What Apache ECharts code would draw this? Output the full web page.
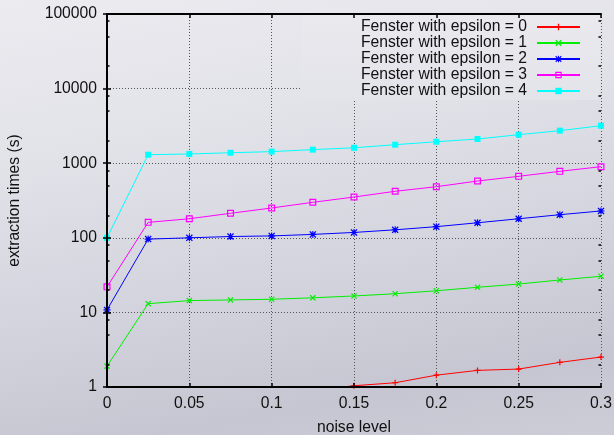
<!DOCTYPE html>
<html>
<head>
<meta charset="utf-8">
<script src="https://cdn.jsdelivr.net/npm/echarts@6/dist/echarts.min.js"></script>
<style>
html,body{margin:0;padding:0;}
#chart{width:614px;height:435px;background:linear-gradient(170deg,#ebebf0 0%,#e2e2e9 30%,#d4d4de 60%,#c6c6d2 85%,#cdcdd8 100%);}
</style>
</head>
<body>
<div id="chart"></div>
<script>
// ---- data ----
const noiseLevels = [0, 0.025, 0.05, 0.075, 0.1, 0.125, 0.15, 0.175, 0.2, 0.225, 0.25, 0.275, 0.3];
const eps0 = [null, null, null, null, null, 0.9, 1.04, 1.14, 1.44, 1.67, 1.74, 2.14, 2.52];
const eps1 = [1.9, 13.1, 14.4, 14.7, 15.0, 15.7, 16.6, 17.8, 19.5, 21.7, 24.0, 27.2, 30.5];
const eps2 = [10.8, 96, 100, 104, 106, 111, 118, 128, 141, 159, 180, 204, 229];
const eps3 = [22, 161, 180, 213, 251, 299, 352, 420, 484, 577, 667, 778, 898];
const eps4 = [100, 1300, 1330, 1380, 1430, 1520, 1610, 1770, 1940, 2110, 2410, 2730, 3180];
const seriesNames = ['Fenster with epsilon = 0','Fenster with epsilon = 1','Fenster with epsilon = 2','Fenster with epsilon = 3','Fenster with epsilon = 4'];
const xTicks = [0, 0.05, 0.1, 0.15, 0.2, 0.25, 0.3];
const xTickLabels = ['0', '0.05', '0.1', '0.15', '0.2', '0.25', '0.3'];
const yTicks = [1, 10, 100, 1000, 10000, 100000];
const yTickLabels = ['1', '10', '100', '1000', '10000', '100000'];
const yMinorTicks = [2, 5, 8, 20, 50, 80, 200, 500, 800, 2000, 5000, 8000, 20000, 50000, 80000];

// ---- styling ----
const FONT = 'Liberation Sans';
const FS = 15.7;
const colors = ['#ff0000', '#00ee00', '#0000ff', '#ff00ff', '#00ffff'];
const PLUS = 'path://M4,0H6V4H10V6H6V10H4V6H0V4H4Z';
const CROSS = 'path://M0,1.4L1.4,0L5,3.6L8.6,0L10,1.4L6.4,5L10,8.6L8.6,10L5,6.4L1.4,10L0,8.6L3.6,5Z';
const STAR = 'path://M4.2,0H5.8V4.2H10V5.8H5.8V10H4.2V5.8H0V4.2H4.2Z M0,1.3L1.3,0L5,3.7L8.7,0L10,1.3L6.3,5L10,8.7L8.7,10L5,6.3L1.3,10L0,8.7L3.7,5Z';
const HSQ = 'path://M0,0H10V10H0Z M1.7,1.7V8.3H8.3V1.7Z';
const symbols = [PLUS, CROSS, STAR, HSQ, 'rect'];
const symbolSizes = [6, 6, 7, 7, 6];

const allData = [eps0, eps1, eps2, eps3, eps4];
const series = allData.map((vals, i) => ({
  name: seriesNames[i],
  type: 'line',
  xAxisIndex: 0,
  yAxisIndex: 0,
  data: vals.map((v, j) => [noiseLevels[j], v]),
  symbol: symbols[i],
  symbolSize: symbolSizes[i],
  showAllSymbol: true,
  clip: true,
  connectNulls: false,
  lineStyle: {color: colors[i], width: 1},
  itemStyle: {color: colors[i]},
  emphasis: {disabled: true},
  animation: false
}));

const blackLine = {show: true, lineStyle: {color: '#000', width: 2}};
const majorTick = {show: true, inside: true, length: 4, lineStyle: {color: '#000', width: 1.5}};
const gridLine = {show: true, lineStyle: {color: '#555', width: 1, type: [1, 2]}};
const off = {show: false};

const xBase = {type: 'value', min: 0, max: 0.3, interval: 0.05, gridIndex: 0};
const yBase = {type: 'log', logBase: 10, min: 1, max: 100000, gridIndex: 0};

const chart = echarts.init(document.getElementById('chart'), null, {renderer: 'canvas'});
chart.setOption({
  backgroundColor: 'transparent',
  animation: false,
  textStyle: {fontFamily: FONT},
  grid: {left: 107, right: 13, top: 14, bottom: 48, containLabel: false, outerBoundsMode: 'none'},
  legend: {
    orient: 'vertical',
    right: 14,
    top: 15,
    align: 'right',
    padding: [4, 19, 1, 60],
    itemWidth: 43,
    itemHeight: 8,
    itemGap: 0,
    z: 4,
    backgroundColor: {type: 'linear', x: 0, y: 0, x2: 0, y2: 1, colorStops: [{offset: 0, color: '#e9e9ee'}, {offset: 1, color: '#e3e3ea'}]},
    textStyle: {fontFamily: FONT, fontSize: FS, color: '#111', lineHeight: FS, padding: [0, 5, 0, 0]},
    data: seriesNames
  },
  xAxis: [
    Object.assign({}, xBase, {
      position: 'bottom', z: 5,
      axisLine: blackLine, axisTick: majorTick, splitLine: off,
      axisLabel: {show: true, margin: 9, fontFamily: FONT, fontSize: FS, color: '#111',
        formatter: (v) => { const k = xTicks.findIndex(t => Math.abs(t - v) < 1e-9); return k >= 0 ? xTickLabels[k] : ''; }},
      name: 'noise level', nameLocation: 'middle', nameGap: 33,
      nameTextStyle: {fontFamily: FONT, fontSize: FS, color: '#111'}
    }),
    Object.assign({}, xBase, {
      position: 'top', z: 5,
      axisLine: blackLine, axisTick: majorTick, splitLine: off, axisLabel: off
    }),
    Object.assign({}, xBase, {
      position: 'bottom', z: 0,
      axisLine: off, axisTick: off, axisLabel: off, splitLine: gridLine
    })
  ],
  yAxis: [
    Object.assign({}, yBase, {
      position: 'left', z: 5,
      axisLine: blackLine, axisTick: majorTick, splitLine: off,
      axisLabel: {show: true, margin: 10, fontFamily: FONT, fontSize: FS, color: '#111',
        formatter: (v) => { const k = yTicks.findIndex(t => Math.abs(t - v) / t < 1e-6); return k >= 0 ? yTickLabels[k] : ''; }},
      name: 'extraction times (s)', nameLocation: 'middle', nameGap: 84,
      nameTextStyle: {fontFamily: FONT, fontSize: FS, color: '#111'}
    }),
    Object.assign({}, yBase, {
      position: 'right', z: 5,
      axisLine: blackLine, axisTick: majorTick, splitLine: off, axisLabel: off
    }),
    Object.assign({}, yBase, {
      position: 'left', z: 5,
      axisLine: off, splitLine: off, axisLabel: off,
      axisTick: {show: true, inside: true, length: 2.5, customValues: yMinorTicks, lineStyle: {color: '#000', width: 1.5}}
    }),
    Object.assign({}, yBase, {
      position: 'right', z: 5,
      axisLine: off, splitLine: off, axisLabel: off,
      axisTick: {show: true, inside: true, length: 2.5, customValues: yMinorTicks, lineStyle: {color: '#000', width: 1.5}}
    }),
    Object.assign({}, yBase, {
      position: 'left', z: 0,
      axisLine: off, axisTick: off, axisLabel: off, splitLine: gridLine
    })
  ],
  series: series
});
</script>
</body>
</html>
